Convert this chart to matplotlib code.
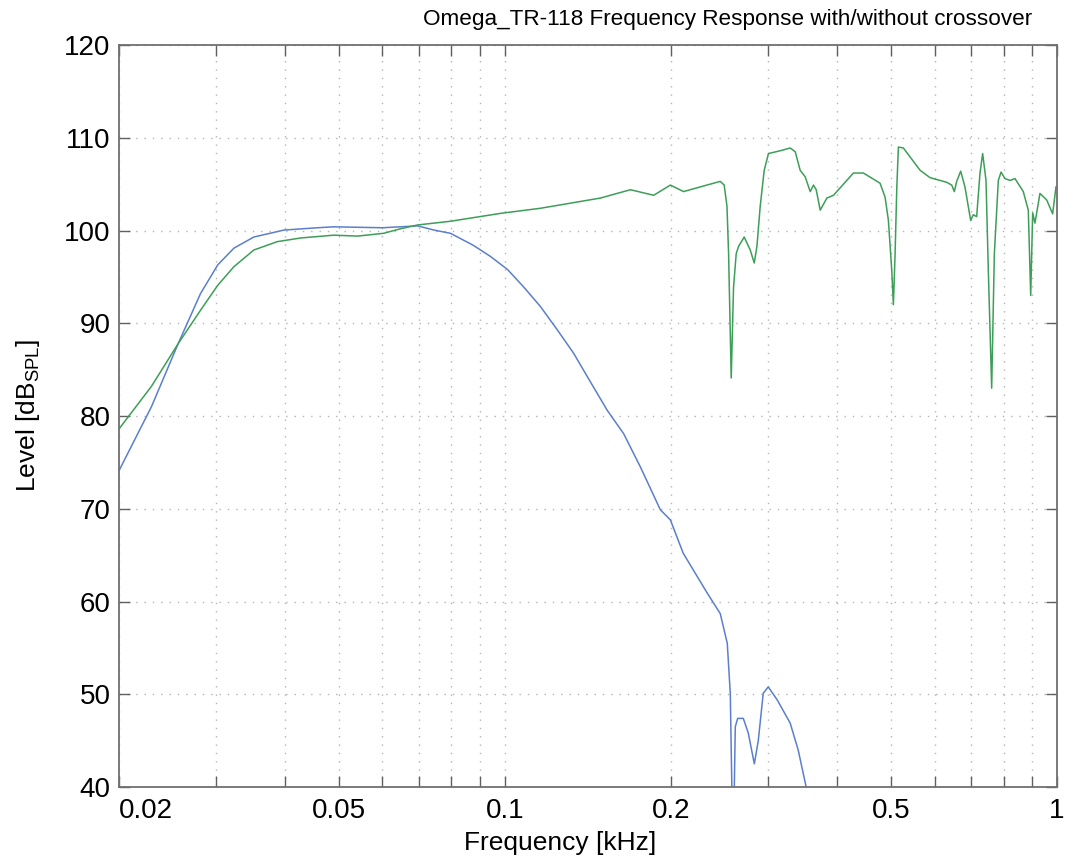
import numpy as np
import matplotlib.pyplot as plt
from matplotlib.ticker import FixedLocator, NullFormatter

plt.rcParams['font.family'] = ['Liberation Sans', 'DejaVu Sans']

# woofer response with crossover (blue)
f_xo = [0.0200, 0.0229, 0.0256, 0.0281, 0.0302, 0.0323, 0.0351, 0.0398, 0.0458,
        0.0490, 0.0600, 0.0695, 0.0744, 0.0797, 0.0877, 0.0942, 0.1011, 0.1082,
        0.1160, 0.1244, 0.1331, 0.1428, 0.1533, 0.1641, 0.1760, 0.1912, 0.1994,
        0.2104, 0.2326, 0.2455, 0.2528, 0.2560, 0.2580, 0.2600, 0.2614, 0.2640,
        0.2703, 0.2760, 0.2830, 0.2877, 0.2937, 0.2999, 0.3113, 0.3286, 0.3398,
        0.3513, 0.3600]
db_xo = [74.1, 81.0, 87.8, 93.2, 96.3, 98.1, 99.3, 100.05, 100.3,
         100.4, 100.3, 100.5, 100.05, 99.7, 98.4, 97.2, 95.8, 93.9,
         91.8, 89.3, 86.8, 83.7, 80.6, 78.1, 74.5, 69.9, 68.8,
         65.2, 60.9, 58.7, 55.5, 50.1, 38.0, 38.0, 46.5, 47.4,
         47.4, 45.8, 42.5, 45.0, 50.1, 50.8, 49.4, 46.9, 44.0,
         40.0, 38.0]

# driver response without crossover (green)
f_raw = [0.0200, 0.0229, 0.0256, 0.0281, 0.0302, 0.0323, 0.0351, 0.0387, 0.0427,
         0.0490, 0.0541, 0.0603, 0.0648, 0.0695, 0.0797, 0.0982, 0.1160, 0.1489,
         0.1688, 0.1860, 0.1994, 0.2107, 0.2196, 0.2455, 0.2496, 0.2525, 0.2542,
         0.2570, 0.2595, 0.2624, 0.2650, 0.2713, 0.2782, 0.2829, 0.2861, 0.2900,
         0.2949, 0.3002, 0.3152, 0.3286, 0.3356, 0.3426, 0.3498, 0.3573, 0.3622,
         0.3663, 0.3725, 0.3830, 0.3937, 0.4278, 0.4460, 0.4781, 0.4882, 0.4950,
         0.5020, 0.5054, 0.5090, 0.5127, 0.5161, 0.5269, 0.5649, 0.5889, 0.6313,
         0.6446, 0.6516, 0.6581, 0.6692, 0.6812, 0.6976, 0.7054, 0.7153, 0.7253,
         0.7334, 0.7437, 0.7509, 0.7615, 0.7700, 0.7829, 0.7918, 0.8050, 0.8221,
         0.8392, 0.8688, 0.8871, 0.8961, 0.9035, 0.9122, 0.9313, 0.9578, 0.9820,
         0.9956]
db_raw = [78.6, 83.2, 87.8, 91.4, 94.1, 96.1, 97.9, 98.8, 99.2,
          99.5, 99.4, 99.7, 100.2, 100.6, 101.0, 101.85, 102.4, 103.5,
          104.4, 103.8, 104.9, 104.2, 104.5, 105.3, 104.9, 102.6, 97.5,
          84.1, 93.9, 97.5, 98.3, 99.3, 97.9, 96.5, 98.3, 102.6,
          106.5, 108.3, 108.6, 108.9, 108.5, 106.5, 105.8, 104.2, 104.9,
          104.4, 102.2, 103.5, 103.8, 106.2, 106.2, 105.1, 103.6, 101.1,
          95.7, 92.0, 97.5, 104.7, 109.0, 108.9, 106.5, 105.7, 105.2,
          104.9, 104.2, 105.3, 106.4, 104.7, 101.1, 101.7, 101.5, 106.2,
          108.3, 105.4, 95.7, 83.0, 97.5, 105.4, 106.3, 105.6, 105.4,
          105.6, 104.2, 102.2, 93.0, 101.9, 100.8, 104.0, 103.3, 101.8,
          104.7]

major_f = [0.02, 0.05, 0.1, 0.2, 0.5, 1]
major_lbl = ['0.02', '0.05', '0.1', '0.2', '0.5', '1']
minor_f = [0.03, 0.04, 0.06, 0.07, 0.08, 0.09, 0.3, 0.4, 0.6, 0.7, 0.8, 0.9]

fig = plt.figure(figsize=(10.65, 8.66), dpi=100)
ax = fig.add_axes([0.1117, 0.0912, 0.8808, 0.8568])

ax.plot(f_xo, db_xo, color='#5b7fcc', lw=1.1)
ax.plot(f_raw, db_raw, color='#3d9e58', lw=1.1)

ax.set_xscale('log')
ax.set_xlim(0.02, 1.0)
ax.set_ylim(40, 120)
ax.set_yticks(np.arange(40, 121, 10))

ax.xaxis.set_major_locator(FixedLocator(major_f))
ax.set_xticklabels(major_lbl)
ax.xaxis.set_minor_locator(FixedLocator(minor_f))
ax.xaxis.set_minor_formatter(NullFormatter())
ax.get_xticklabels()[0].set_horizontalalignment('left')

ax.grid(True, which='both', linestyle=(0, (1, 5)), color='#b4b4b4', lw=1.0)
ax.tick_params(which='both', direction='in', top=True, right=True,
               length=8, width=1.0, color='#606060', labelsize=20)
ax.tick_params(axis='x', pad=8)
ax.tick_params(axis='y', pad=6)
for s in ax.spines.values():
    s.set_color('#707070')
    s.set_linewidth(1.3)

fig.text(0.683, 0.977, 'Omega_TR-118 Frequency Response with/without crossover',
         ha='center', va='center', fontsize=16.2)
fig.text(0.526, 0.027, 'Frequency [kHz]', ha='center', va='center', fontsize=19)
fig.text(0.026, 0.52, r'Level [dB$_\mathregular{SPL}$]', ha='center', va='center',
         rotation=90, fontsize=19)

fig.savefig('out.png', dpi=100)
